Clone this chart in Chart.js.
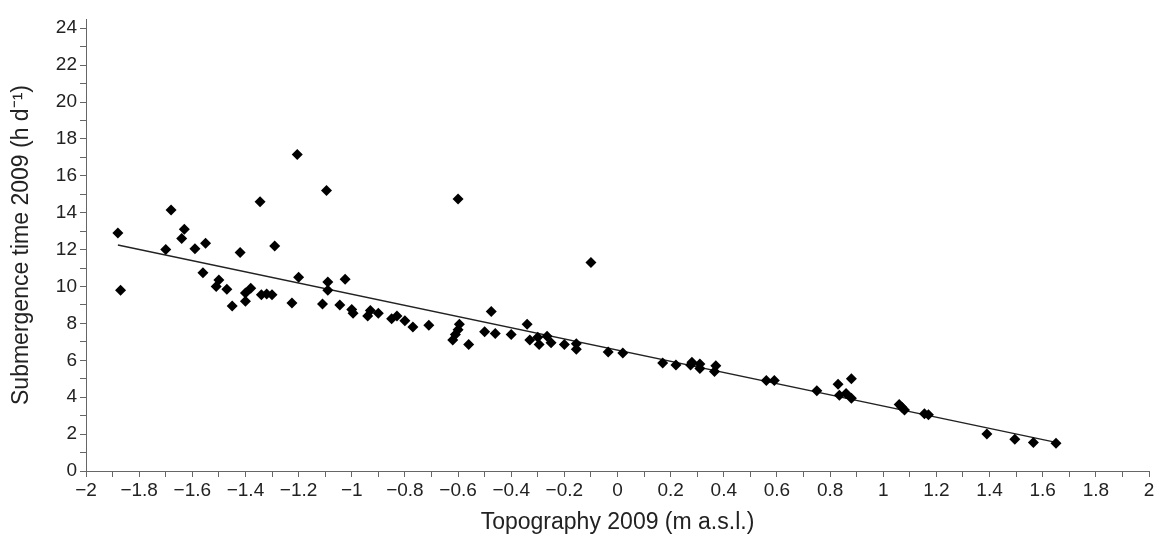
<!DOCTYPE html>
<html>
<head>
<meta charset="utf-8">
<script src="https://cdn.jsdelivr.net/npm/chart.js@4"></script>
<style>
  html, body { margin: 0; padding: 0; background: #fff; }
  #wrap { width: 1158px; height: 539px; }
</style>
</head>
<body>
<div id="wrap"><canvas id="grafica"></canvas></div>
<script>
// topography (m a.s.l.) and submergence time (h d-1)
var topo = [-1.88, -1.87, -1.70, -1.68, -1.63, -1.64, -1.59, -1.55, -1.56, -1.50,
  -1.51, -1.47, -1.45, -1.42, -1.40, -1.38, -1.40, -1.345, -1.34, -1.32,
  -1.30, -1.29, -1.225, -1.205, -1.20, -1.11, -1.095, -1.09, -1.09, -1.045,
  -1.025, -1.00, -0.995, -0.94, -0.93, -0.90, -0.85, -0.83, -0.80, -0.77,
  -0.71, -0.62, -0.61, -0.60, -0.595, -0.60, -0.56, -0.50, -0.475, -0.46,
  -0.40, -0.34, -0.33, -0.30, -0.295, -0.265, -0.25, -0.20, -0.155, -0.155,
  -0.10, -0.035, 0.02, 0.17, 0.22, 0.275, 0.28, 0.31, 0.31, 0.37,
  0.365, 0.56, 0.59, 0.75, 0.83, 0.88, 0.835, 0.86, 0.88, 1.06,
  1.07, 1.08, 1.155, 1.17, 1.39, 1.495, 1.565, 1.65];
var subm = [12.9, 9.8, 12.0, 14.15, 13.1, 12.6, 12.05, 12.35, 10.75, 10.35,
  10.0, 9.85, 8.95, 11.85, 9.65, 9.9, 9.2, 14.6, 9.55, 9.6,
  9.55, 12.2, 9.1, 17.15, 10.5, 9.05, 15.2, 10.25, 9.8, 9.0,
  10.4, 8.75, 8.55, 8.4, 8.7, 8.55, 8.25, 8.4, 8.15, 7.8,
  7.9, 7.1, 7.4, 7.65, 7.95, 14.75, 6.85, 7.55, 8.65, 7.45,
  7.4, 7.95, 7.1, 7.25, 6.85, 7.3, 6.95, 6.85, 6.9, 6.6,
  11.3, 6.45, 6.4, 5.85, 5.75, 5.75, 5.9, 5.8, 5.55, 5.7,
  5.4, 4.9, 4.9, 4.35, 4.7, 5.0, 4.1, 4.2, 3.95, 3.6,
  3.45, 3.3, 3.1, 3.05, 2.0, 1.72, 1.55, 1.5];

// regression line end points
var trendX = [-1.88, 1.65];
var trendY = [12.25, 1.55];

// y tick marks (labels on the even ones)
var yTicks = [0, 1, 2, 3, 4, 5, 6, 7, 8, 9, 10, 11, 12, 13, 14, 15, 16, 17, 18, 19, 20, 21, 22, 23, 24];

var puntos = topo.map(function (t, i) { return { x: t, y: subm[i] }; });
var recta = trendX.map(function (t, i) { return { x: t, y: trendY[i] }; });

function menos(v) {
  return String(v).replace('-', '\u2212');
}

var config = {
  type: 'scatter',
  data: {
    datasets: [
      {
        label: 'Datos',
        data: puntos,
        pointStyle: 'rectRot',
        pointRadius: 5.5,
        backgroundColor: '#000',
        borderColor: '#000',
        borderWidth: 0,
        order: 1
      },
      {
        label: 'Ajuste',
        type: 'line',
        data: recta,
        borderColor: '#222',
        borderWidth: 1.3,
        pointRadius: 0,
        fill: false,
        order: 2
      }
    ]
  },
  options: {
    responsive: false,
    animation: false,
    layout: { padding: { left: 0, right: 9, top: 19, bottom: 0 } },
    plugins: { legend: { display: false }, tooltip: { enabled: false } },
    scales: {
      x: {
        type: 'linear',
        min: -2,
        max: 2,
        afterFit: function (s) { s.height = 68; },
        border: { color: '#666', width: 1 },
        grid: { drawOnChartArea: false, tickLength: 6, color: '#666' },
        ticks: {
          stepSize: 0.1,
          autoSkip: false,
          maxRotation: 0,
          padding: 2,
          color: '#222',
          font: { family: 'Liberation Sans', size: 19 },
          callback: function (v) {
            var k = Math.round(v * 10);
            if (k % 2 !== 0) return '';
            return menos(Math.round(v * 10) / 10);
          }
        },
        title: {
          display: true,
          text: 'Topography 2009 (m a.s.l.)',
          color: '#222',
          font: { family: 'Liberation Sans', size: 23 },
          padding: { top: 4, bottom: 3 }
        }
      },
      y: {
        type: 'linear',
        min: 0,
        max: 24.5,
        afterFit: function (s) { s.width = 86; },
        afterBuildTicks: function (s) {
          s.ticks = yTicks.map(function (v) { return { value: v }; });
        },
        border: { color: '#666', width: 1 },
        grid: { drawOnChartArea: false, tickLength: 6, color: '#666' },
        ticks: {
          autoSkip: false,
          padding: 3,
          color: '#222',
          font: { family: 'Liberation Sans', size: 19 },
          callback: function (v) {
            return (v % 2 === 0) ? String(v) : '';
          }
        },
        title: {
          display: true,
          text: 'Submergence time 2009 (h d\u207B\u00B9)',
          color: '#222',
          font: { family: 'Liberation Sans', size: 23 },
          padding: { top: 8, bottom: 0 }
        }
      }
    }
  }
};

var lienzo = document.getElementById('grafica');
lienzo.width = 1158;
lienzo.height = 539;
lienzo.style.width = '1158px';
lienzo.style.height = '539px';

var miGrafica = new Chart(lienzo, config);
</script>
</body>
</html>
